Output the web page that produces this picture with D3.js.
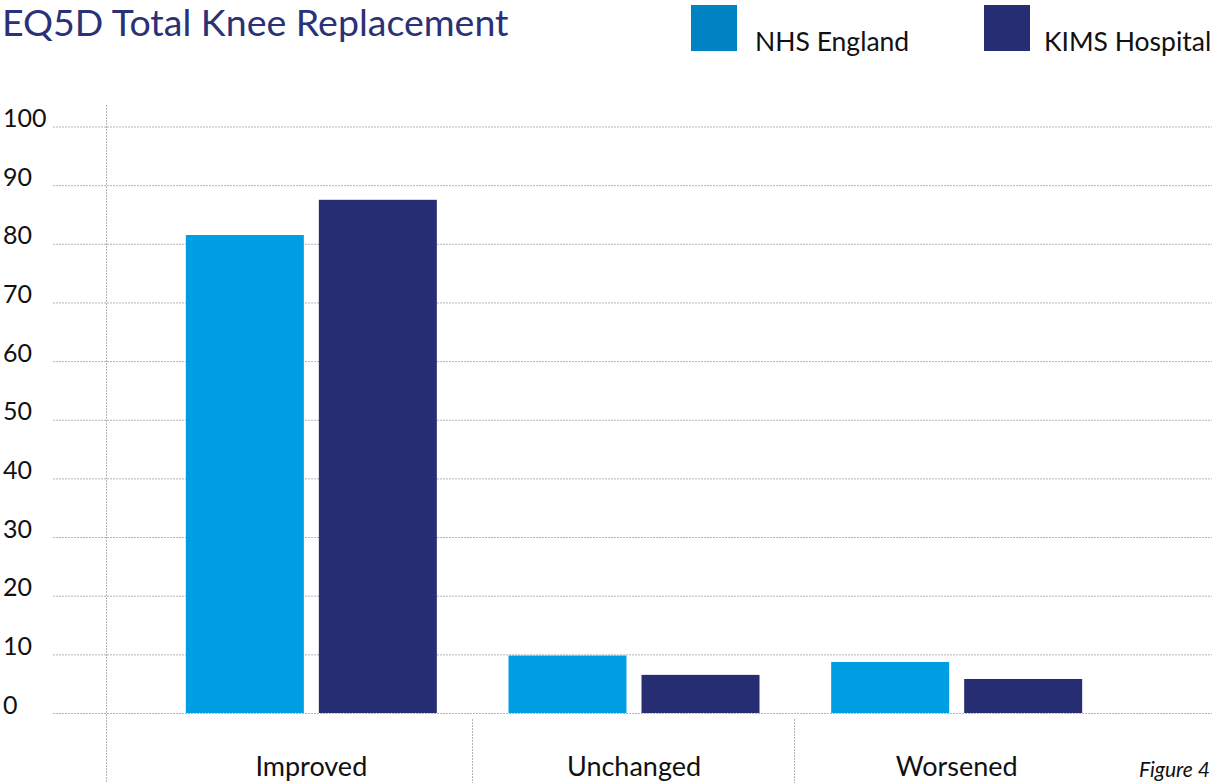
<!DOCTYPE html>
<html>
<head>
<meta charset="utf-8">
<script src="https://cdn.jsdelivr.net/npm/d3@7"></script>
<style>
  html, body { margin: 0; padding: 0; background: #fff; }
  svg { display: block; font-family: Lato, "Open Sans", sans-serif; }
</style>
</head>
<body>
<svg id="chart" width="1212" height="783"></svg>
<script>
// EQ5D outcome percentages after total knee replacement
const categories = ["Improved", "Unchanged", "Worsened"];
const seriesNames = ["NHS England", "KIMS Hospital"];
const nhsEngland = [81.5, 9.8, 8.7];
const kimsHospital = [87.5, 6.5, 5.8];
const yTicks = [0, 10, 20, 30, 40, 50, 60, 70, 80, 90, 100];

const barColors = ["#009fe3", "#262d72"];
const legendColors = ["#0082c3", "#262d72"];
const gridColor = "#b5b5b5";

const svg = d3.select("#chart");
const W = 1212, H = 783;

const y = d3.scaleLinear().domain([0, 100]).range([713, 126.5]);
const x0 = d3.scaleBand().domain(categories).range([150, 1118]).paddingInner(0).paddingOuter(0);
const pairW = 251;
const x1 = d3.scaleBand().domain(seriesNames)
  .range([(x0.bandwidth() - pairW) / 2, (x0.bandwidth() + pairW) / 2])
  .paddingInner(15 / 133).paddingOuter(0);

// horizontal dotted gridlines with tick labels
const yAxis = d3.axisLeft(y).tickValues(yTicks).tickSize(0).tickFormat(d3.format("d"));
const gy = svg.append("g").call(yAxis);
gy.select(".domain").remove();
gy.selectAll(".tick text")
  .attr("x", 3).attr("dy", 0)
  .attr("text-anchor", "start")
  .style("font-family", "Lato, sans-serif")
  .style("font-size", "25px")
  .style("fill", "#111");
gy.selectAll(".tick").append("line")
  .attr("x1", 53).attr("x2", W)
  .attr("stroke", gridColor).attr("stroke-width", 1)
  .attr("stroke-dasharray", "2,1");

// vertical axis line
svg.append("line")
  .attr("x1", 106.5).attr("x2", 106.5).attr("y1", 105).attr("y2", H)
  .attr("stroke", gridColor).attr("stroke-dasharray", "2,1");

// category separators below the baseline
categories.slice(1).forEach(c => {
  const xs = Math.round(x0(c)) - 0.5;
  svg.append("line")
    .attr("x1", xs).attr("x2", xs).attr("y1", 719).attr("y2", H)
    .attr("stroke", gridColor).attr("stroke-dasharray", "2,1");
});

// bars
const rows = categories.map((c, i) => ({ cat: c, values: [nhsEngland[i], kimsHospital[i]] }));
const groups = svg.append("g").selectAll("g").data(rows).join("g")
  .attr("transform", d => `translate(${x0(d.cat)},0)`);
groups.selectAll("rect")
  .data(d => d.values.map((v, j) => ({ name: seriesNames[j], value: v, j })))
  .join("rect")
  .attr("x", d => x1(d.name))
  .attr("width", x1.bandwidth())
  .attr("y", d => y(d.value))
  .attr("height", d => y(0) - y(d.value))
  .attr("fill", d => barColors[d.j]);

// category labels
const xAxis = d3.axisBottom(x0).tickSize(0);
const gx = svg.append("g").attr("transform", "translate(0,776)").call(xAxis);
gx.select(".domain").remove();
gx.selectAll(".tick text")
  .attr("y", 0).attr("dy", 0)
  .style("font-family", "Lato, sans-serif")
  .style("font-size", "27px")
  .style("fill", "#111");

// title
svg.append("text")
  .attr("x", 2).attr("y", 36)
  .style("font-size", "37.5px")
  .style("fill", "#2b3176")
  .text("EQ5D Total Knee Replacement");

// legend
const legendX = [691, 984];
const legendTextX = [755, 1044];
seriesNames.forEach((n, i) => {
  svg.append("rect")
    .attr("x", legendX[i]).attr("y", 5).attr("width", 46).attr("height", 46)
    .attr("fill", legendColors[i]);
  svg.append("text")
    .attr("x", legendTextX[i]).attr("y", 51)
    .style("font-size", "26.5px").style("fill", "#111")
    .text(n);
});

// figure caption
svg.append("text")
  .attr("x", 1210).attr("y", 777)
  .attr("text-anchor", "end")
  .style("font-size", "21px").style("font-style", "italic").style("fill", "#111")
  .text("Figure 4");
</script>
</body>
</html>
